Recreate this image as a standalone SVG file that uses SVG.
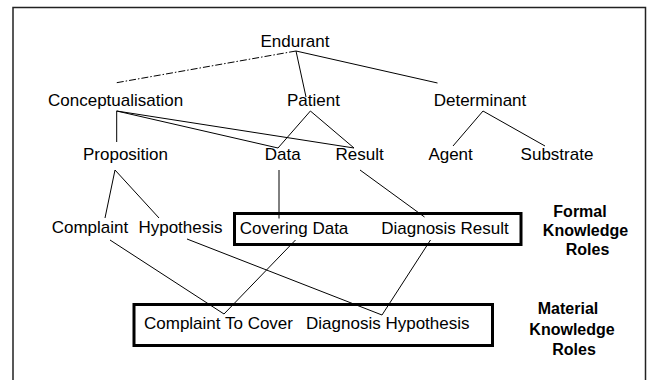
<svg xmlns="http://www.w3.org/2000/svg" width="650" height="380" viewBox="0 0 650 380">
<style>
text{font-family:"Liberation Sans",Arial,sans-serif;font-size:17px;fill:#000;text-anchor:middle}
.lbl{font-weight:bold;font-size:16px}
.c line{stroke:#000;stroke-width:1;fill:none}
.box{fill:none;stroke:#000;stroke-width:3}
</style>
<rect width="650" height="380" fill="#fff"/>
<path d="M13,382 V7.5 H645.5 V382" fill="none" stroke="#222" stroke-width="1.5"/>
<g class="c" id="connectors">
<line x1="296" y1="51" x2="115" y2="83" stroke-dasharray="7 2 1.5 2"/>
<line x1="296" y1="51" x2="306" y2="97"/>
<line x1="296" y1="51" x2="437.5" y2="83"/>
<line x1="116.7" y1="111" x2="116.7" y2="142"/>
<line x1="116.7" y1="111" x2="278" y2="148"/>
<line x1="116.7" y1="111" x2="354" y2="148"/>
<line x1="310.4" y1="111" x2="278" y2="148"/>
<line x1="310.4" y1="111" x2="354" y2="148"/>
<line x1="483" y1="111" x2="453" y2="146"/>
<line x1="483" y1="111" x2="545" y2="146"/>
<line x1="115" y1="170" x2="105" y2="218"/>
<line x1="115" y1="170" x2="159" y2="218"/>
<line x1="279" y1="170" x2="279" y2="218.5"/>
<line x1="360" y1="170" x2="424.5" y2="217"/>
<line x1="110" y1="240" x2="224" y2="314"/>
<line x1="295.5" y1="240" x2="224" y2="314"/>
<line x1="187" y1="239" x2="382" y2="315"/>
<line x1="430.5" y1="240" x2="382" y2="315"/>
</g>
<g id="endurant"><text x="295" y="46.5">Endurant</text></g>
<g id="conceptualisation"><text x="115.6" y="106">Conceptualisation</text></g>
<g id="patient"><text x="313.5" y="106">Patient</text></g>
<g id="determinant"><text x="480" y="106">Determinant</text></g>
<g id="proposition"><text x="125.5" y="159.5">Proposition</text></g>
<g id="data"><text x="282.7" y="160">Data</text></g>
<g id="result"><text x="359.6" y="160">Result</text></g>
<g id="agent"><text x="450.6" y="160">Agent</text></g>
<g id="substrate"><text x="557" y="160">Substrate</text></g>
<g id="complaint"><text x="90" y="233">Complaint</text></g>
<g id="hypothesis"><text x="180.5" y="233">Hypothesis</text></g>
<g id="formal-roles">
<rect class="box" x="234.5" y="213.5" width="286.5" height="31"/>
<g id="covering-data"><text x="294" y="234">Covering Data</text></g>
<g id="diagnosis-result"><text x="445" y="234">Diagnosis Result</text></g>
</g>
<g id="formal-label">
<text class="lbl" x="580" y="217">Formal</text>
<text class="lbl" x="585.5" y="236">Knowledge</text>
<text class="lbl" x="587.5" y="255">Roles</text>
</g>
<g id="material-roles">
<rect class="box" x="134" y="304.5" width="358.5" height="41"/>
<g id="complaint-to-cover"><text x="218.5" y="329">Complaint To Cover</text></g>
<g id="diagnosis-hypothesis"><text x="387.8" y="329">Diagnosis Hypothesis</text></g>
</g>
<g id="material-label">
<text class="lbl" x="568" y="314">Material</text>
<text class="lbl" x="572" y="334.5">Knowledge</text>
<text class="lbl" x="574" y="354.5">Roles</text>
</g>
</svg>
